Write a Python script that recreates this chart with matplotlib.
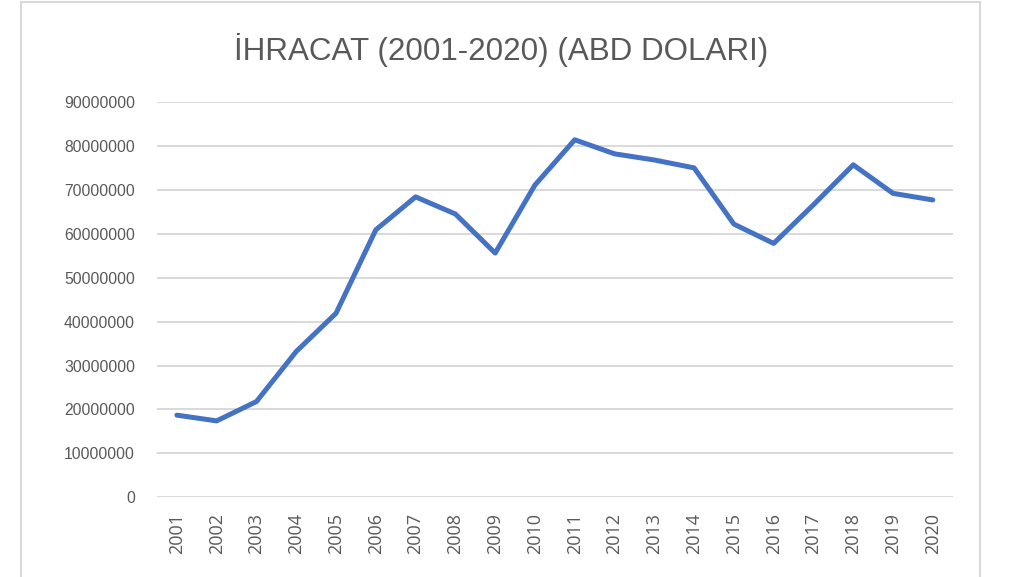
import matplotlib
matplotlib.use("Agg")
import matplotlib.pyplot as plt
from matplotlib.patches import Rectangle
from matplotlib.ticker import MultipleLocator, FuncFormatter

# ---- veri (ABD doları) ----
years = [str(y) for y in range(2001, 2021)]
ihracat = [18700000, 17400000, 21800000, 33200000, 41900000,
           60900000, 68400000, 64500000, 55600000, 71100000,
           81400000, 78200000, 76800000, 75000000, 62200000,
           57800000, 66600000, 75700000, 69200000, 67700000]
title = "İHRACAT (2001-2020) (ABD DOLARI)"

TXT = "#595959"
GRID = "#D9D9D9"
LINE = "#4472C4"
NARROW = ["Liberation Sans Narrow", "Liberation Sans", "DejaVu Sans"]

W, H = 1012, 577
fig = plt.figure(figsize=(W / 100, H / 100), dpi=100)
fig.patch.set_facecolor("white")
ax = fig.add_axes([157 / W, 1 - 497.3 / H, (952.7 - 157) / W, (497.3 - 102) / H])

x = list(range(len(years)))
ax.plot(x, ihracat, color=LINE, lw=3.6, solid_joinstyle="round",
        solid_capstyle="round", zorder=3)

ax.set_xlim(-0.5, len(years) - 0.5)
ax.set_ylim(0, 90000000)
ax.yaxis.set_major_locator(MultipleLocator(10000000))
ax.yaxis.set_major_formatter(FuncFormatter(lambda v, p: f"{int(v)}"))
ax.grid(axis="y", color=GRID, lw=1.4)
ax.set_axisbelow(True)
for s in ax.spines.values():
    s.set_visible(False)

ax.set_xticks(x)
ax.set_xticklabels(years, rotation=90, fontsize=13, family=["Open Sans", "DejaVu Sans"],
                   color=TXT, va="top", ha="center")
for lab in ax.get_yticklabels():
    lab.set_family(NARROW)
    lab.set_fontsize(11.3)
    lab.set_color(TXT)
ax.tick_params(axis="y", length=0, pad=15.8)
ax.tick_params(axis="x", length=0, pad=11.3)

fig.text(501 / W, 1 - 60 / H, title, ha="center", va="baseline",
         fontsize=22.6, color=TXT, family=NARROW)

# grafik alanı çerçevesi
fig.patches.append(Rectangle((21 / W, -0.1), (980 - 21) / W, 1.1 - 2 / H,
                             transform=fig.transFigure, fill=False,
                             edgecolor=GRID, lw=1.5))

fig.savefig("out.png", dpi=100, facecolor="white")
